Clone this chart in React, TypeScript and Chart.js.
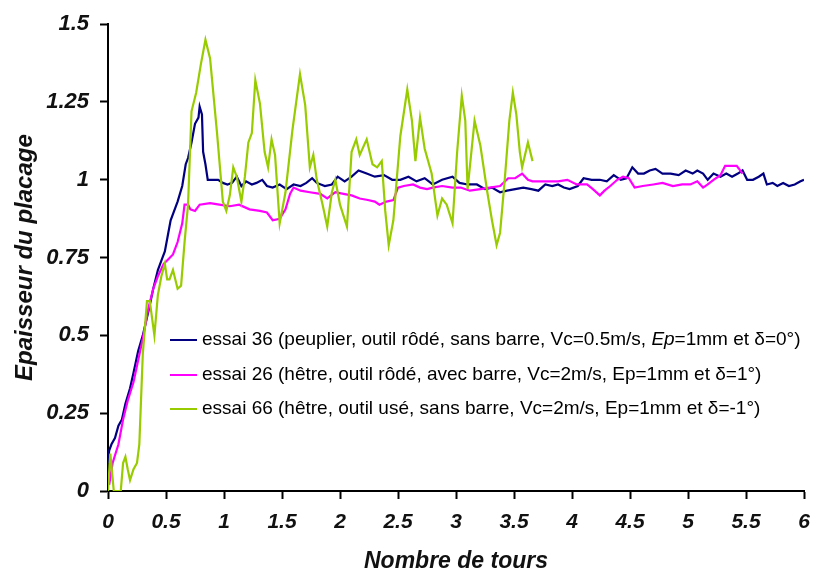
import React, { useEffect, useRef } from "react";
import { Chart, registerables } from "chart.js";

Chart.register(...registerables);

// ---------- data ----------
const xTicks = [0, 0.5, 1, 1.5, 2, 2.5, 3, 3.5, 4, 4.5, 5, 5.5, 6];
const xTickLabels = ["0", "0.5", "1", "1.5", "2", "2.5", "3", "3.5", "4", "4.5", "5", "5.5", "6"];
const yTicks = [0, 0.25, 0.5, 0.75, 1, 1.25, 1.5];
const yTickLabels = ["0", "0.25", "0.5", "0.75", "1", "1.25", "1.5"];

const xTitle = "Nombre de tours";
const yTitle = "Epaisseur du placage";

const seriesLabels = [
  "essai 36 (peuplier, outil rôdé, sans barre, Vc=0.5m/s, Ep=1mm et δ=0°)",
  "essai 26 (hêtre, outil rôdé, avec barre, Vc=2m/s, Ep=1mm et δ=1°)",
  "essai 66 (hêtre, outil usé, sans barre, Vc=2m/s, Ep=1mm et δ=-1°)",
];
const seriesItalicWord = ["Ep", "", ""];
const seriesColors = ["#000080", "#FF00FF", "#99CC00"];

const essai36X = [
  0, 0.01, 0.03, 0.06, 0.09, 0.12, 0.15, 0.19, 0.22, 0.26, 0.3, 0.35, 0.39, 0.43, 0.46, 0.49, 0.52, 0.54,
  0.58, 0.6, 0.64, 0.67, 0.69, 0.72, 0.75, 0.78, 0.79, 0.81, 0.82, 0.84, 0.86, 0.9, 0.95, 0.99, 1.03, 1.07,
  1.11, 1.15, 1.19, 1.24, 1.28, 1.33, 1.37, 1.42, 1.48, 1.54, 1.6, 1.66, 1.71, 1.76, 1.8, 1.87, 1.93, 1.98,
  2.04, 2.1, 2.16, 2.23, 2.3, 2.38, 2.45, 2.52, 2.59, 2.66, 2.73, 2.8, 2.88, 2.97, 3.03, 3.1, 3.18, 3.25,
  3.31, 3.38, 3.44, 3.51, 3.58, 3.65, 3.71, 3.77, 3.83, 3.88, 3.93, 3.98, 4.05, 4.1, 4.17, 4.24, 4.3, 4.36,
  4.42, 4.47, 4.52, 4.57, 4.62, 4.67, 4.72, 4.78, 4.85, 4.92, 4.98, 5.04, 5.08, 5.13, 5.17, 5.22, 5.28,
  5.33, 5.38, 5.43, 5.47, 5.51, 5.56, 5.61, 5.65, 5.68, 5.73, 5.77, 5.82, 5.87, 5.92, 5.97, 6.0,
];
const essai36Y = [
  0.09, 0.13, 0.15, 0.17, 0.21, 0.23, 0.28, 0.33, 0.38, 0.45, 0.5, 0.58, 0.65, 0.71, 0.74, 0.77, 0.83, 0.87,
  0.91, 0.93, 0.98, 1.05, 1.07, 1.12, 1.18, 1.2, 1.235, 1.21, 1.09, 1.05, 1.0, 1.0, 1.0, 0.99, 0.985, 0.99,
  1.01, 0.98, 0.995, 0.985, 0.99, 1.0, 0.98, 0.975, 0.985, 0.97, 0.985, 0.98, 0.99, 1.005, 0.99, 0.98, 0.985, 1.01,
  0.995, 1.01, 1.03, 1.02, 1.01, 1.015, 1.0, 1.0, 1.01, 0.995, 1.005, 0.985, 1.0, 1.01, 0.99, 0.985, 0.985, 0.97,
  0.975, 0.96, 0.965, 0.97, 0.975, 0.97, 0.965, 0.985, 0.98, 0.985, 0.975, 0.97, 0.98, 1.005, 1.0, 1.0, 0.995, 1.015,
  1.0, 1.005, 1.04, 1.02, 1.02, 1.03, 1.035, 1.02, 1.02, 1.015, 1.03, 1.02, 1.03, 1.02, 1.0, 1.02, 1.01,
  1.02, 1.01, 1.02, 1.03, 1.0, 1.0, 1.01, 1.02, 0.985, 0.99, 0.98, 0.99, 0.98, 0.985, 0.995, 1.0,
];

const essai26X = [
  0.01, 0.04, 0.09, 0.13, 0.17, 0.22, 0.26, 0.3, 0.35, 0.39, 0.43, 0.48, 0.52, 0.56, 0.6, 0.64, 0.66, 0.69,
  0.71, 0.75, 0.79, 0.88, 0.96, 1.05, 1.13, 1.22, 1.31, 1.37, 1.42, 1.48, 1.53, 1.57, 1.6, 1.66, 1.74, 1.83,
  1.89, 1.96, 2.03, 2.1, 2.17, 2.24, 2.3, 2.34, 2.4, 2.46, 2.5, 2.55, 2.63, 2.69, 2.75, 2.8, 2.88, 2.97,
  3.04, 3.12, 3.21, 3.29, 3.38, 3.45, 3.51, 3.57, 3.62, 3.66, 3.74, 3.81, 3.88, 3.96, 4.04, 4.13, 4.18, 4.24,
  4.28, 4.33, 4.39, 4.44, 4.49, 4.54, 4.61, 4.7, 4.78, 4.87, 4.95, 5.02, 5.08, 5.13, 5.17, 5.22, 5.28, 5.32,
  5.37, 5.42, 5.45, 5.47,
];
const essai26Y = [
  0.02, 0.09, 0.15, 0.23, 0.29, 0.35, 0.42, 0.49, 0.59, 0.65, 0.69, 0.73, 0.745, 0.76, 0.8, 0.86, 0.92, 0.92,
  0.905, 0.9, 0.92, 0.925, 0.92, 0.915, 0.92, 0.905, 0.9, 0.895, 0.87, 0.875, 0.905, 0.955, 0.975, 0.965, 0.96, 0.955,
  0.94, 0.96, 0.955, 0.95, 0.94, 0.935, 0.93, 0.92, 0.93, 0.935, 0.975, 0.98, 0.985, 0.975, 0.97, 0.975, 0.98, 0.975,
  0.975, 0.965, 0.97, 0.975, 0.98, 1.005, 1.005, 1.02, 1.0, 0.995, 0.995, 0.995, 0.995, 1.0, 0.985, 0.985, 0.97, 0.95,
  0.965, 0.98, 1.0, 1.01, 1.005, 0.975, 0.98, 0.985, 0.99, 0.98, 0.985, 0.985, 0.995, 0.975, 0.985, 1.0, 1.015, 1.045,
  1.045, 1.045, 1.03, 1.02,
];

const essai66X = [
  0, 0.01, 0.02, 0.035, 0.05, 0.11, 0.13, 0.15, 0.17, 0.19, 0.22, 0.25, 0.27, 0.3, 0.336, 0.36, 0.4, 0.43,
  0.46, 0.49, 0.51, 0.53, 0.56, 0.6, 0.63, 0.66, 0.69, 0.72, 0.76, 0.8, 0.84, 0.88, 0.94, 0.99, 1.02, 1.05,
  1.08, 1.11, 1.15, 1.18, 1.21, 1.24, 1.27, 1.31, 1.35, 1.38, 1.41, 1.44, 1.48, 1.53, 1.59, 1.655, 1.7, 1.74,
  1.77, 1.8, 1.85, 1.89, 1.93, 1.96, 2.0, 2.06, 2.1, 2.14, 2.17, 2.23, 2.28, 2.32, 2.36, 2.39, 2.42, 2.46,
  2.52, 2.58, 2.62, 2.65, 2.69, 2.73, 2.79, 2.84, 2.88, 2.92, 2.97, 3.01, 3.05, 3.08, 3.1, 3.16, 3.21, 3.27,
  3.31, 3.35, 3.38, 3.42, 3.46, 3.49, 3.52, 3.55, 3.57, 3.62, 3.66,
];
const essai66Y = [
  0.0, 0.06, 0.12, 0.06, 0.0, 0.0, 0.09, 0.11, 0.07, 0.035, 0.07, 0.09, 0.15, 0.44, 0.61, 0.61, 0.5, 0.63,
  0.69, 0.73, 0.68, 0.68, 0.71, 0.65, 0.66, 0.8, 0.92, 1.22, 1.28, 1.37, 1.45, 1.39, 1.15, 0.93, 0.9, 0.95,
  1.04, 1.01, 0.93, 1.01, 1.12, 1.15, 1.32, 1.245, 1.09, 1.04, 1.13, 1.08, 0.86, 0.96, 1.16, 1.34, 1.24, 1.04,
  1.08, 1.0, 0.92, 0.85, 0.96, 1.0, 0.92, 0.85, 1.09, 1.13, 1.08, 1.13, 1.05, 1.04, 1.06, 0.9, 0.79, 0.87,
  1.14, 1.29, 1.19, 1.06, 1.2, 1.1, 1.02, 0.885, 0.94, 0.92, 0.86, 1.09, 1.27, 1.19, 0.97, 1.19, 1.11, 0.96,
  0.87, 0.79, 0.83, 1.0, 1.19, 1.28, 1.21, 1.09, 1.04, 1.12, 1.06,
];

const seriesX = [essai36X, essai26X, essai66X];
const seriesY = [essai36Y, essai26Y, essai66Y];

// ---------- styling ----------
const FONT = "'Liberation Sans', Arial, sans-serif";

const insideLegend = {
  id: "insideLegend",
  afterDatasetsDraw(chart: any) {
    const ctx = chart.ctx as CanvasRenderingContext2D;
    const rowsY = [340, 375, 409];
    const lineX0 = 170;
    const lineX1 = 197;
    const textX = 202;
    ctx.save();
    ctx.textBaseline = "middle";
    ctx.textAlign = "left";
    ctx.fillStyle = "#000";
    seriesLabels.forEach((label, i) => {
      const y = rowsY[i];
      ctx.strokeStyle = seriesColors[i];
      ctx.lineWidth = 2;
      ctx.beginPath();
      ctx.moveTo(lineX0, y);
      ctx.lineTo(lineX1, y);
      ctx.stroke();
      const it = seriesItalicWord[i];
      const parts: { t: string; italic: boolean }[] = [];
      if (it && label.indexOf(it) >= 0) {
        const k = label.indexOf(it);
        parts.push({ t: label.slice(0, k), italic: false });
        parts.push({ t: it, italic: true });
        parts.push({ t: label.slice(k + it.length), italic: false });
      } else {
        parts.push({ t: label, italic: false });
      }
      let x = textX;
      parts.forEach((p) => {
        ctx.font = `${p.italic ? "italic " : ""}19px ${FONT}`;
        ctx.fillText(p.t, x, y);
        x += ctx.measureText(p.t).width;
      });
    });
    ctx.restore();
  },
};

export default function App() {
  const ref = useRef<HTMLCanvasElement | null>(null);

  useEffect(() => {
    document.body.style.margin = "0";
    const canvas = ref.current;
    if (!canvas) return;
    const xTickFont = { family: FONT, size: 21, style: "italic" as const, weight: "bold" as const };
    const yTickFont = { family: FONT, size: 22, style: "italic" as const, weight: "bold" as const };
    const xTitleFont = { family: FONT, size: 23, style: "italic" as const, weight: "bold" as const, lineHeight: 1 };
    const yTitleFont = { family: FONT, size: 24, style: "italic" as const, weight: "bold" as const, lineHeight: 1 };

    const chart = new Chart(canvas, {
      type: "line",
      data: {
        datasets: seriesLabels.map((label, i) => ({
          label,
          data: seriesX[i].map((x, j) => ({ x, y: seriesY[i][j] })),
          borderColor: seriesColors[i],
          backgroundColor: seriesColors[i],
          borderWidth: 2.2,
          pointRadius: 0,
          tension: 0,
          fill: false,
          order: 2 - i,
        })),
      },
      options: {
        animation: false,
        responsive: false,
        maintainAspectRatio: false,
        layout: { padding: { left: 0, right: 21, top: 20, bottom: 0 } },
        plugins: {
          legend: { display: false },
          tooltip: { enabled: false },
        },
        scales: {
          x: {
            type: "linear",
            min: 0,
            max: 6,
            afterBuildTicks: (s: any) => {
              s.ticks = xTicks.map((v) => ({ value: v }));
            },
            afterFit: (s: any) => {
              s.height = 82;
            },
            ticks: {
              autoSkip: false,
              maxRotation: 0,
              padding: 11,
              color: "#111",
              font: xTickFont,
              callback: (v: any) => xTickLabels[xTicks.indexOf(Number(v))] ?? "",
            },
            grid: {
              drawOnChartArea: false,
              drawTicks: true,
              tickLength: 8,
              tickColor: "#000",
              tickWidth: 2,
            },
            border: { display: true, color: "#000", width: 2 },
            title: {
              display: true,
              text: xTitle,
              color: "#111",
              font: xTitleFont,
              padding: { top: 0, bottom: 0 },
            },
          },
          y: {
            type: "linear",
            min: 0,
            max: 1.5,
            afterBuildTicks: (s: any) => {
              s.ticks = yTicks.map((v) => ({ value: v }));
            },
            afterFit: (s: any) => {
              s.width = 108;
            },
            ticks: {
              autoSkip: false,
              padding: 11,
              color: "#111",
              font: yTickFont,
              callback: (v: any) => yTickLabels[yTicks.indexOf(Number(v))] ?? "",
            },
            grid: {
              drawOnChartArea: false,
              drawTicks: true,
              tickLength: 8,
              tickColor: "#000",
              tickWidth: 2,
            },
            border: { display: true, color: "#000", width: 2 },
            title: {
              display: true,
              text: yTitle,
              color: "#111",
              font: yTitleFont,
              padding: { top: 13, bottom: 0 },
            },
          },
        },
      },
      plugins: [insideLegend],
    });
    return () => chart.destroy();
  }, []);

  return (
    <div style={{ width: 825, height: 573, background: "#fff" }}>
      <canvas ref={ref} width={825} height={573} style={{ display: "block", width: 825, height: 573 }} />
    </div>
  );
}
